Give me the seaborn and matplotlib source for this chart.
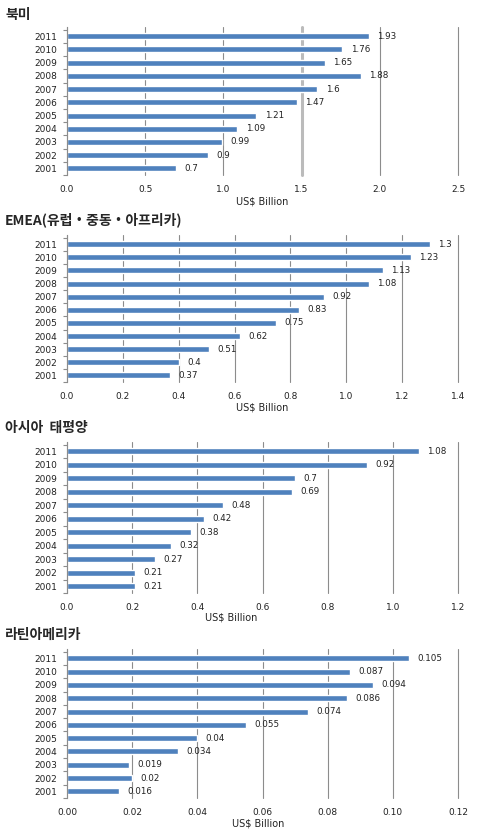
import numpy as np
import pandas as pd
import matplotlib
matplotlib.use('Agg')
import matplotlib.pyplot as plt
import seaborn as sns

years = ['2011','2010','2009','2008','2007','2006','2005','2004','2003','2002','2001']

north_america = [1.93, 1.76, 1.65, 1.88, 1.6, 1.47, 1.21, 1.09, 0.99, 0.9, 0.7]
emea = [1.3, 1.23, 1.13, 1.08, 0.92, 0.83, 0.75, 0.62, 0.51, 0.4, 0.37]
asia_pacific = [1.08, 0.92, 0.7, 0.69, 0.48, 0.42, 0.38, 0.32, 0.27, 0.21, 0.21]
latin_america = [0.105, 0.087, 0.094, 0.086, 0.074, 0.055, 0.04, 0.034, 0.019, 0.02, 0.016]

titles = ['북미', 'EMEA(유럽・중동・아프리카)', '아시아  태평양', '라틴아메리카']
xmax = [2.5, 1.4, 1.2, 0.12]
xstep = [0.5, 0.2, 0.2, 0.02]
xfmt = ['{:.1f}', '{:.1f}', '{:.1f}', '{:.2f}']

sns.set_style('white')
plt.rcParams['font.family'] = ['DejaVu Sans', 'Noto Sans CJK KR']

W, H = 482, 831
fig = plt.figure(figsize=(W/100, H/100), dpi=100)

# axes top / bottom in pixels, title y in pixels
ax_top = [27, 235, 442, 649]
ax_bot = [175, 382, 593, 798]
title_y = [15, 220, 428, 635]
xlabel_x = [0.5, 0.5, 0.42, 0.49]
xlabel_gap = [27, 26, 24, 25]

series = [north_america, emea, asia_pacific, latin_america]
bar_color = '#4F81BD'
grid_color = '#8C8C8C'

for i in range(4):
    left = 67 / W
    width = (458 - 67) / W
    bottom = 1 - ax_bot[i] / H
    hpx = ax_bot[i] - ax_top[i]
    ax = fig.add_axes([left, bottom, width, hpx / H])

    df = pd.DataFrame({'year': years, 'value': series[i]})
    sns.barplot(data=df, x='value', y='year', order=years, color=bar_color,
                saturation=1, width=0.45, ax=ax)

    ax.bar_label(ax.containers[0], labels=[str(v) for v in series[i]],
                 padding=6, fontsize=6.3, color='#222222')

    ax.set_xlim(0, xmax[i])
    ticks = np.round(np.arange(0, xmax[i] + xstep[i] / 2, xstep[i]), 4)
    ax.set_xticks(ticks)
    ax.set_xticklabels([xfmt[i].format(t) for t in ticks], fontsize=6.5, color='#222222')
    ax.tick_params(axis='x', length=0, pad=7)

    ax.set_yticks(np.arange(-0.5, len(years)), minor=True)
    ax.tick_params(axis='y', which='major', length=0, labelsize=6.5, labelcolor='#222222', pad=7)
    ax.tick_params(axis='y', which='minor', length=3, color='#8C8C8C', width=0.8, left=True)
    ax.set_ylim(len(years) - 0.5, -0.7)

    ax.xaxis.grid(True, color=grid_color, linewidth=0.8)
    ax.set_axisbelow(True)
    for gl in ax.get_xgridlines():
        gl.set_clip_on(False)
    if i == 0:
        ax.get_xgridlines()[3].set_linewidth(2.2)
        ax.get_xgridlines()[3].set_color('#BBBBBB')

    for s in ['top', 'right', 'bottom']:
        ax.spines[s].set_visible(False)
    ax.spines['left'].set_color(grid_color)
    ax.spines['left'].set_linewidth(0.8)

    ax.set_ylabel('')
    ax.set_xlabel('US$ Billion', fontsize=7, color='#222222', va='center')
    ax.xaxis.set_label_coords(xlabel_x[i], -xlabel_gap[i] / hpx)

    fig.text(5 / W, 1 - title_y[i] / H, titles[i], fontsize=10, fontweight='bold',
             va='center', ha='left', family=['Noto Sans CJK KR', 'DejaVu Sans'])

plt.savefig('out.png', dpi=100)
plt.close()
